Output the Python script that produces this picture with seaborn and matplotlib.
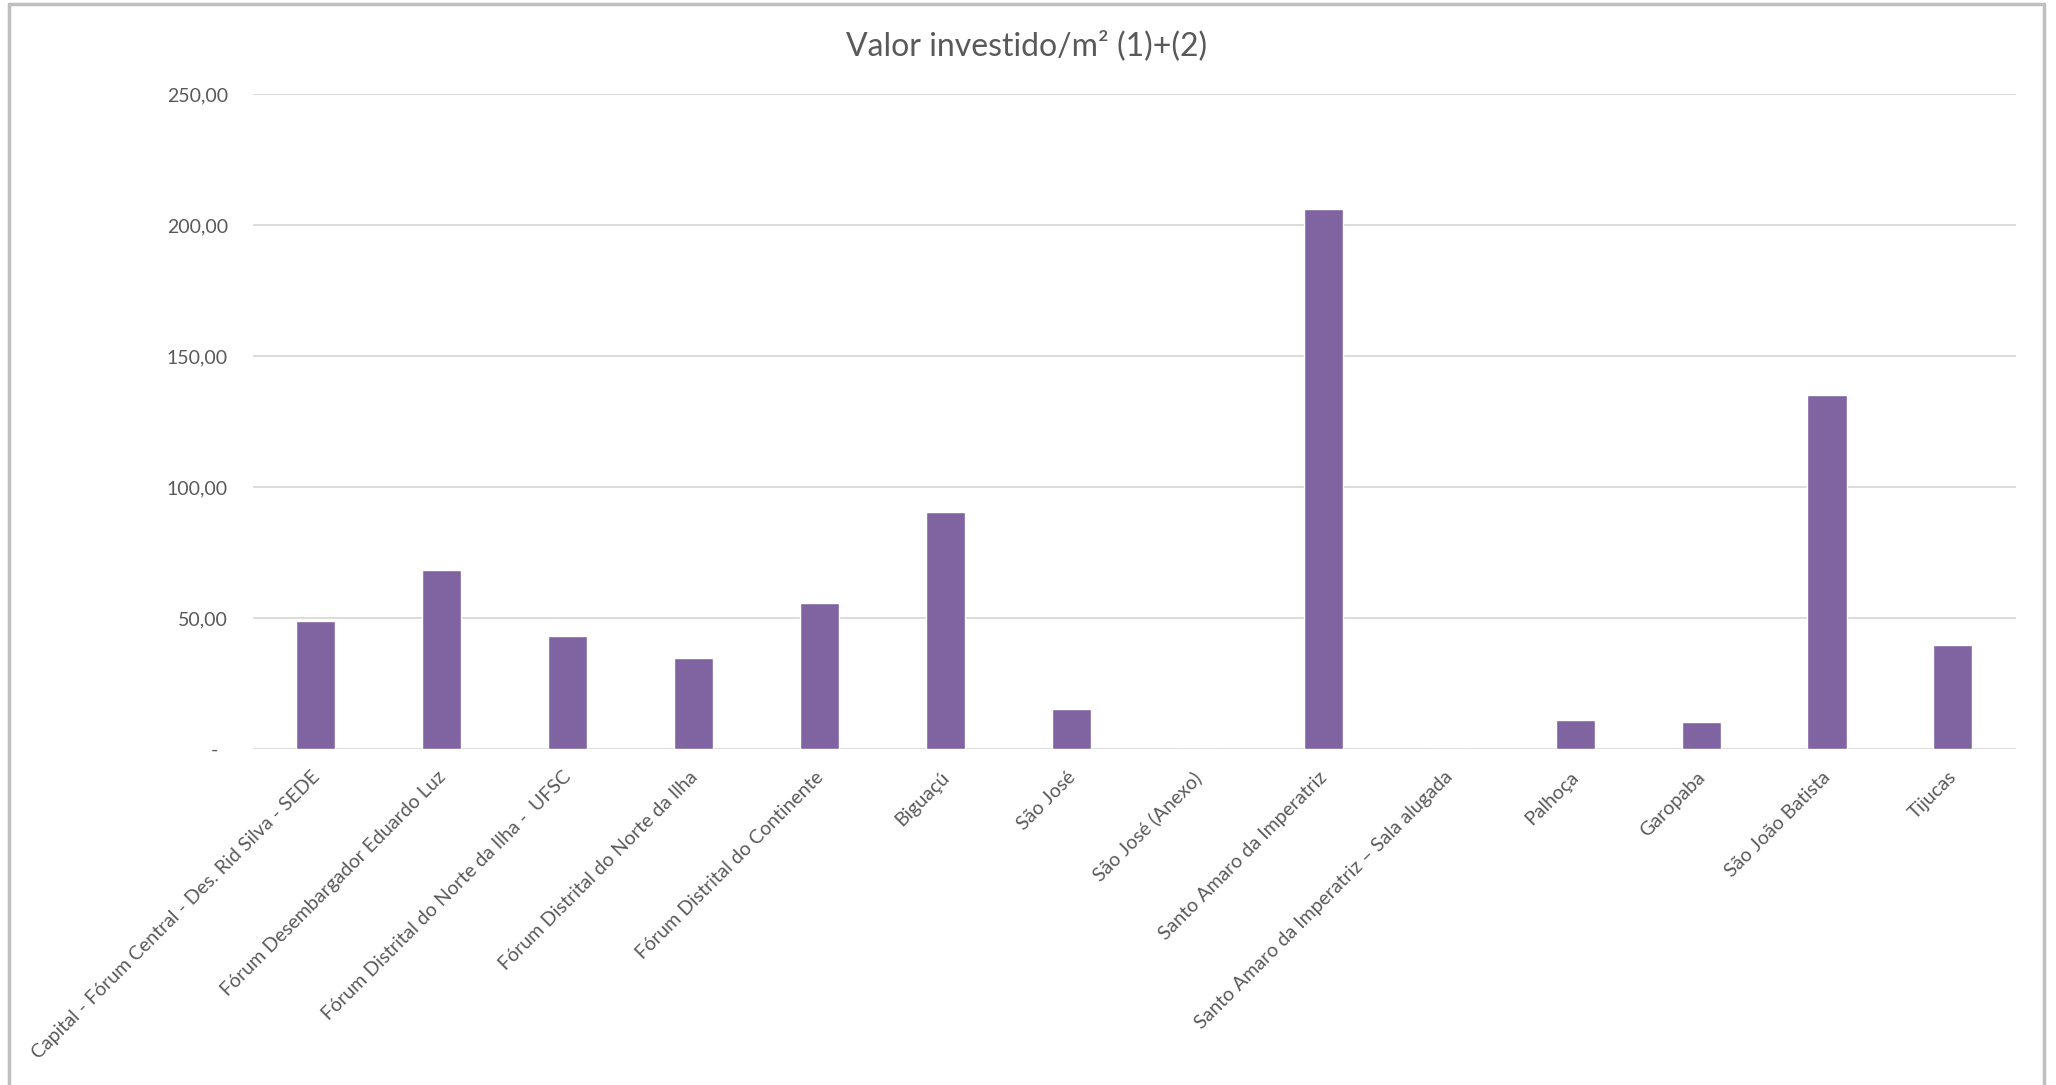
import pandas as pd
import seaborn as sns
import matplotlib.pyplot as plt
from matplotlib.lines import Line2D
from matplotlib.ticker import FuncFormatter
import matplotlib.transforms as mtransforms

# Chart data
locais = [
    "Capital - Fórum Central - Des. Rid Silva - SEDE",
    "Fórum Desembargador Eduardo Luz",
    "Fórum Distrital do Norte da Ilha -  UFSC",
    "Fórum Distrital do Norte da Ilha",
    "Fórum Distrital do Continente",
    "Biguaçú",
    "São José",
    "São José (Anexo)",
    "Santo Amaro da Imperatriz",
    "Santo Amaro da Imperatriz – Sala alugada",
    "Palhoça",
    "Garopaba",
    "São João Batista",
    "Tijucas",
]
valor_m2 = [49.0, 68.5, 43.1, 34.6, 55.7, 90.6, 15.3, 0.0, 206.0, 0.0, 10.9, 10.4, 135.2, 39.6]
y_ticks = [0, 50, 100, 150, 200, 250]

df = pd.DataFrame({"Local": locais, "Valor": valor_m2})

text_color = "#595959"
grid_color = "#D9D9D9"

sns.set_theme(style="white")
plt.rcParams["font.family"] = ["Lato", "DejaVu Sans"]

fig = plt.figure(figsize=(20.56, 10.85), dpi=100)
ax = fig.add_axes([0.123, 0.3097, 0.8575, 0.6037])

sns.barplot(data=df, x="Local", y="Valor", color="#8064A2", saturation=1,
            width=0.31, ax=ax, zorder=3)

ax.set_xlim(-0.5, len(locais) - 0.5)
ax.set_ylim(0, 250)
ax.set_yticks(y_ticks)


def fmt(v, pos):
    if v == 0:
        return "-  "
    return f"{v:.2f}".replace(".", ",")


ax.yaxis.set_major_formatter(FuncFormatter(fmt))
ax.yaxis.grid(True, color=grid_color, linewidth=1.3, zorder=0)
ax.set_axisbelow(True)
for s in ax.spines.values():
    s.set_visible(False)
ax.tick_params(axis="both", length=0)
ax.tick_params(axis="y", labelsize=14, labelcolor=text_color, pad=18)
ax.tick_params(axis="x", labelsize=14, labelcolor=text_color, pad=14)
ax.set_xlabel("")
ax.set_ylabel("")

offset = mtransforms.ScaledTranslation(-5 / 100, 0, fig.dpi_scale_trans)
for lbl in ax.get_xticklabels():
    lbl.set_rotation(45)
    lbl.set_ha("right")
    lbl.set_va("top")
    lbl.set_rotation_mode("anchor")
    lbl.set_transform(lbl.get_transform() + offset)

fig.text(0.4995, 0.9576, "Valor investido/m² (1)+(2)", ha="center", va="center",
         fontsize=23, color=text_color)

# outer chart border
border = "#BFBFBF"
fig.add_artist(Line2D([0.0045, 0.0045], [0, 0.9965], color=border, lw=2.5))
fig.add_artist(Line2D([0.0045, 0.9942], [0.9965, 0.9965], color=border, lw=2.5))
fig.add_artist(Line2D([0.9942, 0.9942], [0, 0.9965], color=border, lw=2.5))

fig.savefig("out.png", dpi=100, facecolor="white")
plt.close(fig)
